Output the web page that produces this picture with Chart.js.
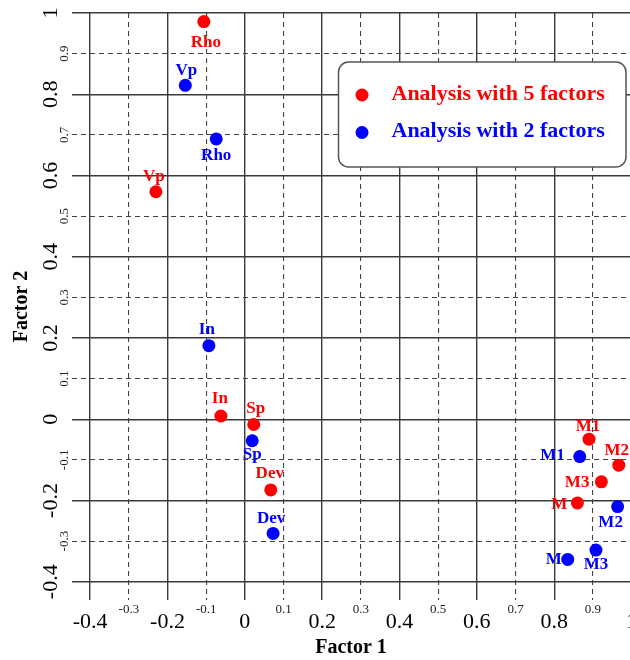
<!DOCTYPE html>
<html>
<head>
<meta charset="utf-8">
<script src="https://cdn.jsdelivr.net/npm/chart.js@4.4.0/dist/chart.umd.min.js"></script>
<style>
  html, body { margin: 0; padding: 0; background: #fff; }
</style>
</head>
<body>
<canvas id="plot" width="630" height="660"></canvas>
<script>
  // Loadings on the first two factors, per variable
  const pointNames = ['Rho', 'Vp', 'In', 'Sp', 'Dev', 'M1', 'M2', 'M3', 'M'];
  const fiveX = [-0.106, -0.230, -0.062, 0.023, 0.067, 0.890, 0.967, 0.922, 0.860];
  const fiveY = [0.979, 0.560, 0.008, -0.013, -0.174, -0.049, -0.113, -0.154, -0.206];
  const twoX = [-0.074, -0.154, -0.093, 0.019, 0.073, 0.866, 0.964, 0.908, 0.835];
  const twoY = [0.690, 0.822, 0.181, -0.053, -0.281, -0.092, -0.215, -0.322, -0.345];
  const seriesNames = ['Analysis with 5 factors', 'Analysis with 2 factors'];

  const xMajorTicks = [-0.4, -0.2, 0, 0.2, 0.4, 0.6, 0.8, 1];
  const xMajorLabels = ['-0.4', '-0.2', '0', '0.2', '0.4', '0.6', '0.8', '1'];
  const xMinorTicks = [-0.3, -0.1, 0.1, 0.3, 0.5, 0.7, 0.9];
  const xMinorLabels = ['-0.3', '-0.1', '0.1', '0.3', '0.5', '0.7', '0.9'];
  const yMajorTicks = [-0.4, -0.2, 0, 0.2, 0.4, 0.6, 0.8, 1];
  const yMajorLabels = ['-0.4', '-0.2', '0', '0.2', '0.4', '0.6', '0.8', '1'];
  const yMinorTicks = [-0.3, -0.1, 0.1, 0.3, 0.5, 0.7, 0.9];
  const yMinorLabels = ['-0.3', '-0.1', '0.1', '0.3', '0.5', '0.7', '0.9'];

  // where each name sits relative to its dot: [dx, dy, textAlign]
  const fiveLabelPos = [
    [2, 21, 'center'], [-2, -15, 'center'], [-1, -17, 'center'], [2, -16, 'center'],
    [-1, -16, 'center'], [-1, -13, 'center'], [-2, -15, 'center'], [-12, 1, 'right'], [-10, 2, 'right']
  ];
  const twoLabelPos = [
    [0, 17, 'center'], [1, -15, 'center'], [-2, -16, 'center'], [0, 14, 'center'],
    [-2, -15, 'center'], [-15, -1, 'right'], [-7, 16, 'center'], [0, 15, 'center'], [-6, 0, 'right']
  ];

  const serif = "'Liberation Serif', 'Times New Roman', serif";
  const RED = '#FF0000';
  const BLUE = '#0000FF';

  // gridlines run a little past the lowest labelled tick
  const xMin = -0.447, xMax = 0.996;
  const yMin = -0.445, yMax = 1.0;

  const toPoints = (xs, ys) => xs.map((x, i) => ({ x, y: ys[i] }));
  const setTicks = vals => s => { s.ticks = vals.map(v => ({ value: v })); };

  const solidGrid = { color: '#3a3a3a', lineWidth: 1.4, drawTicks: false };
  const dashedGrid = { color: '#444', lineWidth: 1.1, drawTicks: false };

  // names next to the dots
  const pointLabels = {
    id: 'pointLabels',
    afterDatasetsDraw(chart) {
      const ctx = chart.ctx;
      const places = [fiveLabelPos, twoLabelPos];
      ctx.save();
      ctx.font = 'bold 17px ' + serif;
      ctx.textBaseline = 'middle';
      chart.data.datasets.forEach((ds, di) => {
        const meta = chart.getDatasetMeta(di);
        meta.data.forEach((pt, j) => {
          const [dx, dy, align] = places[di][j];
          ctx.fillStyle = ds.backgroundColor;
          ctx.textAlign = align;
          ctx.fillText(pointNames[j], pt.x + dx, pt.y + dy);
        });
      });
      ctx.restore();
    }
  };

  // rounded legend box in the upper right
  const boxLegend = {
    id: 'boxLegend',
    afterDraw(chart) {
      const ctx = chart.ctx;
      const x0 = 338.5, y0 = 62, w = 287.5, h = 105;
      ctx.save();
      ctx.beginPath();
      ctx.roundRect(x0, y0, w, h, 10);
      ctx.fillStyle = '#fff';
      ctx.fill();
      ctx.lineWidth = 1.5;
      ctx.strokeStyle = '#555';
      ctx.stroke();
      ctx.font = 'bold 22px ' + serif;
      ctx.textBaseline = 'middle';
      ctx.textAlign = 'left';
      chart.data.datasets.forEach((ds, i) => {
        const cy = y0 + 33 + i * 37.5;
        ctx.fillStyle = ds.backgroundColor;
        ctx.beginPath();
        ctx.arc(x0 + 23.5, cy, 6.5, 0, Math.PI * 2);
        ctx.fill();
        ctx.fillText(ds.label, x0 + 53, cy - 1);
      });
      ctx.restore();
    }
  };

  new Chart(document.getElementById('plot'), {
    type: 'scatter',
    data: {
      datasets: [
        { label: seriesNames[0], data: toPoints(fiveX, fiveY), backgroundColor: RED, pointRadius: 6.5, pointBorderWidth: 0 },
        { label: seriesNames[1], data: toPoints(twoX, twoY), backgroundColor: BLUE, pointRadius: 6.5, pointBorderWidth: 0 }
      ]
    },
    options: {
      responsive: false,
      animation: false,
      events: [],
      layout: { autoPadding: false, padding: { top: 13, right: 0, bottom: 0, left: 0 } },
      plugins: { legend: { display: false }, tooltip: { enabled: false } },
      scales: {
        xMinor: {
          type: 'linear', position: 'bottom', weight: 0, min: xMin, max: xMax,
          afterBuildTicks: setTicks(xMinorTicks),
          afterFit: s => { s.height = 14; s.paddingLeft = 0; s.paddingRight = 0; },
          grid: dashedGrid,
          border: { display: false, dash: [5, 4] },
          ticks: {
            autoSkip: false, maxRotation: 0, padding: 2, color: '#222',
            font: { family: serif, size: 13 },
            callback: (v, i) => xMinorLabels[i]
          }
        },
        x: {
          type: 'linear', position: 'bottom', weight: 1, min: xMin, max: xMax,
          afterBuildTicks: setTicks(xMajorTicks),
          afterFit: s => { s.height = 46; s.paddingLeft = 0; s.paddingRight = 0; },
          grid: solidGrid,
          border: { display: false },
          ticks: {
            autoSkip: false, maxRotation: 0, padding: -5, color: '#000',
            font: { family: serif, size: 22 },
            callback: (v, i) => xMajorLabels[i]
          },
          title: {
            display: true, text: 'Factor 1', color: '#000',
            font: { family: serif, size: 20, weight: 'bold' },
            padding: { top: 0, bottom: 0 }
          }
        },
        yMinor: {
          type: 'linear', position: 'left', weight: 0, min: yMin, max: yMax,
          afterBuildTicks: setTicks(yMinorTicks),
          afterFit: s => { s.width = 14; s.paddingTop = 0; s.paddingBottom = 0; },
          grid: dashedGrid,
          border: { display: false, dash: [5, 4] },
          ticks: {
            autoSkip: false, minRotation: 90, maxRotation: 90, crossAlign: 'center',
            padding: -3, color: '#222',
            font: { family: serif, size: 13 },
            callback: (v, i) => yMinorLabels[i]
          }
        },
        y: {
          type: 'linear', position: 'left', weight: 1, min: yMin, max: yMax,
          afterBuildTicks: setTicks(yMajorTicks),
          afterFit: s => { s.width = 58; s.paddingTop = 0; s.paddingBottom = 0; },
          grid: solidGrid,
          border: { display: false },
          ticks: {
            autoSkip: false, minRotation: 90, maxRotation: 90, crossAlign: 'center',
            padding: -11, color: '#000',
            font: { family: serif, size: 22 },
            callback: (v, i) => yMajorLabels[i]
          },
          title: {
            display: true, text: 'Factor 2', color: '#000',
            font: { family: serif, size: 20, weight: 'bold' },
            padding: { top: 10, bottom: 0 }
          }
        }
      }
    },
    plugins: [pointLabels, boxLegend]
  });
</script>
</body>
</html>
